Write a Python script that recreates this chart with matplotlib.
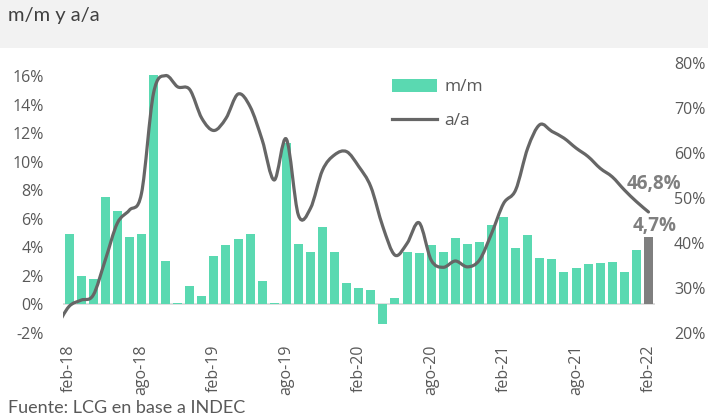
import numpy as np
import matplotlib.pyplot as plt
from matplotlib.path import Path
from matplotlib.patches import PathPatch, Rectangle
from matplotlib.lines import Line2D
from matplotlib.patches import Patch

plt.rcParams['font.family'] = ['Open Sans', 'DejaVu Sans']

# monthly data feb-18 .. feb-22
mm = [4.9, 1.96, 1.77, 7.55, 6.53, 4.75, 4.96, 16.1, 3.03, 0.12, 1.3, 0.6,
      3.36, 4.13, 4.6, 4.96, 1.65, 0.07, 11.3, 4.2, 3.64, 5.43, 3.7, 1.5,
      1.17, 0.98, -1.4, 0.42, 3.7, 3.59, 4.13, 3.7, 4.66, 4.2, 4.4, 5.57,
      6.13, 3.94, 4.83, 3.24, 3.15, 2.28, 2.54, 2.82, 2.91, 2.98, 2.28, 3.78,
      4.73]
# a/a from jan-18 (first point falls outside the plot)
aa = [21.5, 25.9, 27.3, 28.4, 36.2, 44.4, 47.3, 51.0, 73.3, 77.2, 74.7, 74.1, 67.7,
      65.0, 67.7, 73.1, 70.3, 62.9, 54.0, 63.1, 46.2, 47.7, 56.2, 59.6, 60.3,
      57.0, 52.5, 43.6, 37.3, 39.9, 44.5, 36.2, 34.6, 36.0, 34.7, 36.2, 42.1,
      48.8, 51.8, 61.1, 66.3, 64.8, 63.3, 61.1, 59.2, 56.6, 54.7, 51.8, 49.2,
      46.9]
tick_labels = ['feb-18', 'ago-18', 'feb-19', 'ago-19', 'feb-20',
               'ago-20', 'feb-21', 'ago-21', 'feb-22']

green = '#5AD9B1'
grey_bar = '#7F7F7F'
line_col = '#666666'
txt = '#595959'

fig = plt.figure(figsize=(7.08, 4.19), dpi=100)
fig.patches.append(Rectangle((0, 1 - 48 / 419), 1, 48 / 419, transform=fig.transFigure,
                             facecolor='#F2F2F2', edgecolor='none', zorder=0))
fig.text(8 / 708, 1 - 15 / 419, 'm/m y a/a', fontsize=14.5, color='#404040',
         va='center', ha='left', family=['Lato', 'DejaVu Sans'])

ax = fig.add_axes([63 / 708, 86 / 419, (654.5 - 63) / 708, 270 / 419])
ax2 = ax.twinx()
ax.set_zorder(ax2.get_zorder() - 1)
ax.patch.set_visible(True)
ax2.patch.set_visible(False)

x = np.arange(len(mm))
colors = [green] * (len(mm) - 1) + [grey_bar]
ax.bar(x, mm, width=0.74, color=colors, zorder=2)
ax.axhline(0, color='#D9D9D9', lw=1.2, zorder=1)
ax.set_xlim(-0.5, len(mm) - 0.5)
ax.set_ylim(-2, 16.91)
ax.set_yticks(np.arange(-2, 17, 2))
ax.set_yticklabels([f'{v}%' for v in range(-2, 17, 2)])
ax.set_xticks(x[::6])
ax.set_xticklabels(tick_labels, rotation=90)

ax2.set_ylim(20, 80)
ax2.set_yticks(np.arange(20, 81, 10))
ax2.set_yticklabels([f'{v}%' for v in range(20, 81, 10)])

for a in (ax, ax2):
    for s in a.spines.values():
        s.set_visible(False)
    a.tick_params(length=0, labelsize=11.5, colors=txt)
ax.tick_params(axis='y', pad=14)
ax2.tick_params(axis='y', pad=14)
ax.tick_params(axis='x', pad=8.5)

# smoothed a/a line (catmull-rom to bezier)
px = np.arange(-1, len(aa) - 1, dtype=float)
py = np.array(aa, dtype=float)
verts = [(px[0], py[0])]
codes = [Path.MOVETO]
n = len(px)
for i in range(n - 1):
    p0 = (px[max(i - 1, 0)], py[max(i - 1, 0)])
    p1 = (px[i], py[i])
    p2 = (px[i + 1], py[i + 1])
    p3 = (px[min(i + 2, n - 1)], py[min(i + 2, n - 1)])
    c1 = (p1[0] + (p2[0] - p0[0]) / 6, p1[1] + (p2[1] - p0[1]) / 6)
    c2 = (p2[0] - (p3[0] - p1[0]) / 6, p2[1] - (p3[1] - p1[1]) / 6)
    verts += [c1, c2, p2]
    codes += [Path.CURVE4] * 3
ax2.add_patch(PathPatch(Path(verts, codes), fill=False, edgecolor=line_col,
                        lw=2.3, capstyle='round', joinstyle='round', zorder=3))

ax2.annotate('46,8%', (x[-1], aa[-1]), xytext=(4.3, 20), textcoords='offset points',
             ha='center', va='center', fontsize=13.5, fontweight='bold', color=grey_bar,
             annotation_clip=False)
ax.annotate('4,7%', (x[-1], mm[-1]), xytext=(4.3, 8), textcoords='offset points',
            ha='center', va='center', fontsize=13.5, fontweight='bold', color=grey_bar,
            annotation_clip=False)

handles = [Patch(facecolor=green, edgecolor='none'),
           Line2D([0], [0], color=line_col, lw=2.3)]
fig.legend(handles, ['m/m', 'a/a'], loc='upper left',
           bbox_to_anchor=(376 / 708, 1 - 63 / 419), frameon=False,
           fontsize=12.5, labelcolor=txt, handlelength=2.6, handleheight=0.8,
           handletextpad=0.45, labelspacing=1.0)

fig.text(8 / 708, 1 - 408 / 419, 'Fuente: LCG en base a INDEC', fontsize=13,
         color=txt, va='center', ha='left', family=['Lato', 'DejaVu Sans'])

fig.savefig('out.png', dpi=100)
